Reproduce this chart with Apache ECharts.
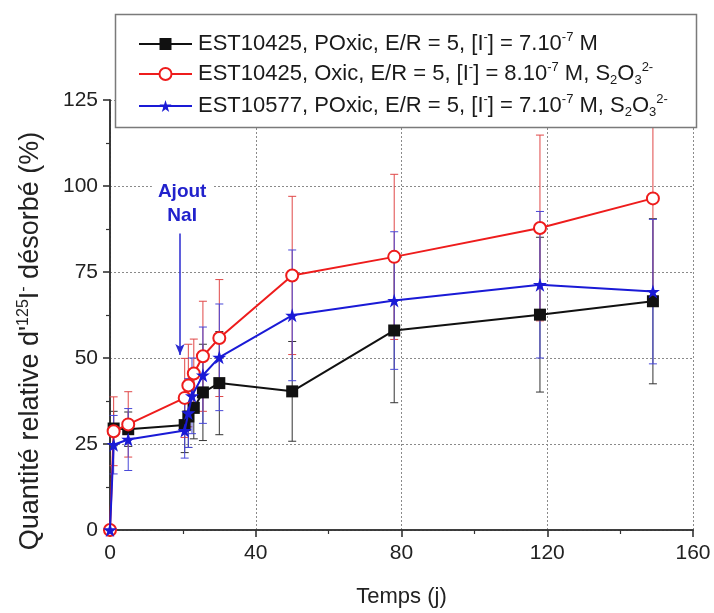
<!DOCTYPE html>
<html>
<head>
<meta charset="utf-8">
<script src="https://cdn.jsdelivr.net/npm/echarts@6/dist/echarts.min.js"></script>
<style>html,body{margin:0;padding:0;background:#fff}#chart{width:714px;height:613px}</style>
</head>
<body>
<div id="chart"></div>
<script>
// ---- axis ticks ----
const xTicks = [0, 40, 80, 120, 160];
const yTicks = [0, 25, 50, 75, 100, 125];

// ---- series 1 : EST10425, POxic (black squares) ----
const blackX   = [1, 5, 20.5, 21.5, 23, 25.5, 30, 50, 78, 118, 149];
const blackY   = [29.5, 29.3, 30.5, 33, 35.5, 40, 42.7, 40.3, 58, 62.6, 66.5];
const blackErr = [5, 5, 8, 9, 9, 14, 15, 14.5, 21, 22.5, 24];

// ---- series 2 : EST10425, Oxic (red open circles) ----
const redX   = [0, 1, 5, 20.5, 21.5, 23, 25.5, 30, 50, 78, 118, 149];
const redY   = [0, 28.7, 30.7, 38.4, 42, 45.5, 50.5, 55.8, 74, 79.4, 87.8, 96.4];
const redErr = [0, 10, 9.5, 11.5, 12, 10, 16, 17, 23, 24, 27, 30];

// ---- series 3 : EST10577, POxic (blue stars) ----
const blueX   = [0, 1, 5, 20.5, 21.5, 22.5, 25.5, 30, 50, 78, 118, 149];
const blueY   = [0, 24.8, 26.3, 28.9, 34, 39, 45, 50.2, 62.4, 66.7, 71.3, 69.3];
const blueErr = [0, 8.5, 9, 8, 10, 11, 14, 15.5, 19, 20, 21.3, 21];

const seriesNames = [
  'EST10425, POxic, E/R = 5, [I-] = 7.10-7 M',
  'EST10425, Oxic, E/R = 5, [I-] = 8.10-7 M, S2O3 2-',
  'EST10577, POxic, E/R = 5, [I-] = 7.10-7 M, S2O3 2-'
];
const legendRich = [
  '{t|EST10425, POxic, E/R = 5, [I}{sp|-}{t|] = 7.10}{sp|-7}{t| M}',
  '{t|EST10425, Oxic, E/R = 5, [I}{sp|-}{t|] = 8.10}{sp|-7}{t| M, S}{sb|2}{t|O}{sb|3}{sp|2-}',
  '{t|EST10577, POxic, E/R = 5, [I}{sp|-}{t|] = 7.10}{sp|-7}{t| M, S}{sb|2}{t|O}{sb|3}{sp|2-}'
];

// annotation "Ajout NaI"
const annotText = 'Ajout\nNaI';
const annotTextPos = [19.8, 94.8];
const annotArrow = [[19.2, 86.2], [19.2, 50.9]];

const FONT = '"Liberation Sans", Arial, sans-serif';
const colors = ['#111111', '#ee1c1c', '#1a1ad6'];
const errColors = ['#333333', '#e04848', '#4848d8'];

function zip(xs, ys) { return xs.map((v, i) => [v, ys[i]]); }
function zip3(xs, ys, es) { return xs.map((v, i) => [v, ys[i], es[i]]); }

function errRender(color) {
  return function (params, api) {
    const x = api.value(0), y = api.value(1), e = api.value(2);
    if (!e) return null;
    const t = api.coord([x, y + e]);
    const b = api.coord([x, y - e]);
    const hw = 4;
    const st = { stroke: color, lineWidth: 1 };
    return {
      type: 'group',
      children: [
        { type: 'line', shape: { x1: t[0], y1: t[1], x2: b[0], y2: b[1] }, style: st },
        { type: 'line', shape: { x1: t[0] - hw, y1: t[1], x2: t[0] + hw, y2: t[1] }, style: st },
        { type: 'line', shape: { x1: b[0] - hw, y1: b[1], x2: b[0] + hw, y2: b[1] }, style: st }
      ]
    };
  };
}

const chart = echarts.init(document.getElementById('chart'), null, { renderer: 'canvas' });

const axisLineStyle = { color: '#333', width: 1.6 };
const gridLineStyle = { color: '#8a8a8a', width: 1, type: [2, 2] };

const option = {
  animation: false,
  backgroundColor: '#ffffff',
  grid: { left: 110, right: 21, top: 100, bottom: 80 },
  xAxis: [{
    type: 'value',
    min: xTicks[0], max: xTicks[xTicks.length - 1], interval: xTicks[1] - xTicks[0],
    name: 'Temps (j)', nameLocation: 'middle', nameGap: 56,
    nameTextStyle: { fontFamily: FONT, fontSize: 22, color: '#222' },
    axisLine: { show: true, lineStyle: axisLineStyle },
    axisTick: { show: true, length: 7, lineStyle: axisLineStyle },
    minorTick: { show: true, splitNumber: 2, length: 4, lineStyle: { color: '#333', width: 1.2 } },
    axisLabel: { fontFamily: FONT, fontSize: 21, color: '#222', margin: 13 },
    splitLine: { show: true, lineStyle: gridLineStyle }
  }, {
    type: 'value', position: 'top',
    min: xTicks[0], max: xTicks[xTicks.length - 1], interval: xTicks[1] - xTicks[0],
    axisLine: { show: true, lineStyle: axisLineStyle },
    axisTick: { show: false }, axisLabel: { show: false }, splitLine: { show: false }
  }],
  yAxis: [{
    type: 'value',
    min: yTicks[0], max: yTicks[yTicks.length - 1], interval: yTicks[1] - yTicks[0],
    name: "{t|Quantité relative d'}{sp|125}{t|I}{sp|-}{t| désorbé (%)}",
    nameLocation: 'middle', nameGap: 64, nameRotate: 90,
    nameTextStyle: {
      fontFamily: FONT, color: '#222', padding: [0, 52, 0, 0],
      rich: {
        t: { fontFamily: FONT, fontSize: 27, lineHeight: 30, color: '#222' },
        sp: { fontFamily: FONT, fontSize: 16, lineHeight: 15, verticalAlign: 'top', color: '#222' }
      }
    },
    axisLine: { show: true, lineStyle: axisLineStyle },
    axisTick: { show: true, length: 7, lineStyle: axisLineStyle },
    minorTick: { show: true, splitNumber: 2, length: 4, lineStyle: { color: '#333', width: 1.2 } },
    axisLabel: { fontFamily: FONT, fontSize: 21, color: '#222', margin: 12 },
    splitLine: { show: true, lineStyle: gridLineStyle }
  }, {
    type: 'value', position: 'right',
    min: yTicks[0], max: yTicks[yTicks.length - 1], interval: yTicks[1] - yTicks[0],
    axisLine: { show: true, lineStyle: axisLineStyle },
    axisTick: { show: false }, axisLabel: { show: false }, splitLine: { show: false }
  }],
  legend: {
    orient: 'vertical', left: 138, top: 31, z: 30,
    itemWidth: 53, itemHeight: 15, itemGap: 6, selectedMode: false,
    padding: 0,
    data: seriesNames,
    formatter: function (name) { return legendRich[seriesNames.indexOf(name)]; },
    textStyle: {
      fontFamily: FONT, color: '#1a1a1a', padding: [0, 0, 0, 1],
      rich: {
        t: { fontFamily: FONT, fontSize: 22, lineHeight: 26, color: '#1a1a1a' },
        sp: { fontFamily: FONT, fontSize: 13, lineHeight: 13, verticalAlign: 'top', color: '#1a1a1a' },
        sb: { fontFamily: FONT, fontSize: 13, lineHeight: 13, verticalAlign: 'bottom', color: '#1a1a1a' }
      }
    }
  },
  graphic: [{
    type: 'rect', z: 20, silent: true,
    shape: { x: 115.5, y: 14.5, width: 581, height: 113 },
    style: { fill: '#ffffff', stroke: '#7a7a7a', lineWidth: 1.5 }
  }],
  series: [
    // error bars
    { type: 'custom', name: 'errBlack', renderItem: errRender(errColors[0]), data: zip3(blackX, blackY, blackErr), encode: { x: 0, y: 1 }, z: 1, silent: true },
    { type: 'custom', name: 'errRed', renderItem: errRender(errColors[1]), data: zip3(redX, redY, redErr), encode: { x: 0, y: 1 }, z: 1, silent: true },
    { type: 'custom', name: 'errBlue', renderItem: errRender(errColors[2]), data: zip3(blueX, blueY, blueErr), encode: { x: 0, y: 1 }, z: 1, silent: true },
    {
      type: 'line', name: seriesNames[0], data: zip(blackX, blackY),
      symbol: 'rect', symbolSize: 12, z: 3,
      lineStyle: { color: colors[0], width: 2 },
      itemStyle: { color: colors[0] }
    },
    {
      type: 'line', name: seriesNames[1], data: zip(redX, redY),
      symbol: 'emptyCircle', symbolSize: 12, z: 4,
      lineStyle: { color: colors[1], width: 2 },
      itemStyle: { color: colors[1], borderColor: colors[1], borderWidth: 1.3 }
    },
    {
      type: 'line', name: seriesNames[2], data: zip(blueX, blueY),
      symbol: 'path://M50,0 L61.8,36.2 L100,36.2 L69.1,58.8 L80.9,95.1 L50,72.7 L19.1,95.1 L30.9,58.8 L0,36.2 L38.2,36.2 Z',
      symbolSize: 14, z: 5,
      lineStyle: { color: colors[2], width: 2 },
      itemStyle: { color: colors[2] },
      markLine: {
        silent: true, symbol: ['none', 'arrow'], symbolSize: [7, 11],
        lineStyle: { color: '#2a2ad0', width: 1.5, type: 'solid' },
        label: { show: false },
        data: [[{ coord: annotArrow[0] }, { coord: annotArrow[1] }]]
      },
      markPoint: {
        silent: true, symbol: 'rect', symbolSize: 1,
        itemStyle: { color: 'rgba(0,0,0,0)' },
        label: {
          show: true, position: 'inside', formatter: annotText,
          fontFamily: FONT, fontSize: 19, fontWeight: 'bold', color: '#2222cc',
          lineHeight: 24, align: 'center', backgroundColor: '#ffffff', padding: [0, 6]
        },
        data: [{ coord: annotTextPos }]
      }
    }
  ]
};
chart.setOption(option);
</script>
</body>
</html>
